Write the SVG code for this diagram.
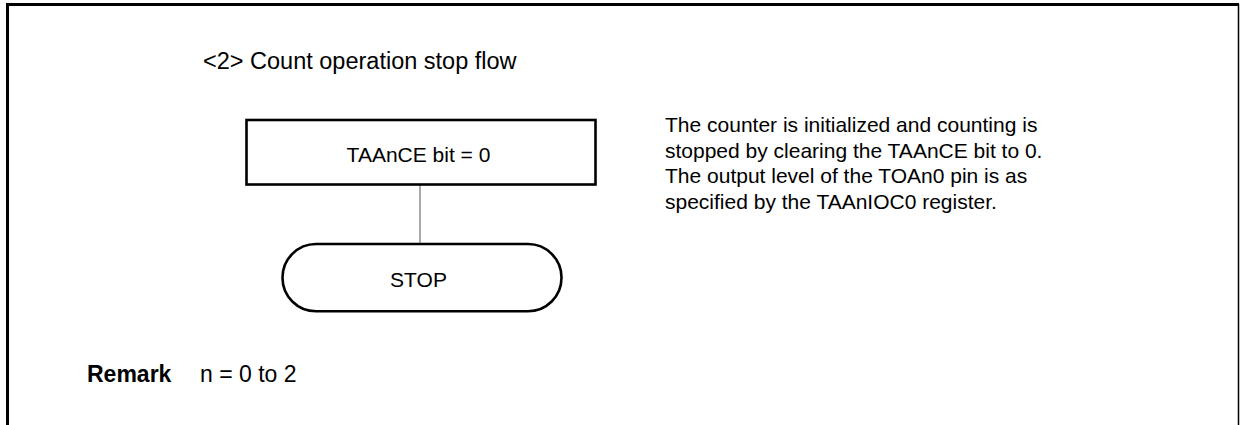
<svg xmlns="http://www.w3.org/2000/svg" width="1242" height="425" viewBox="0 0 1242 425">
<style>
text{font-family:"Liberation Sans",Arial,sans-serif;fill:#000}
.t{font-size:23.5px}
.r{font-size:23px}
.n{font-size:21px;text-anchor:middle}
.d{font-size:21px}
.shape{fill:#fff;stroke:#000;stroke-width:2.6}
.conn{stroke:#555;stroke-width:1;fill:none}
</style>
<rect width="1242" height="425" fill="#fff"/>
<g id="frame" fill="none" stroke="#000">
<line x1="7.5" y1="3" x2="7.5" y2="425" stroke-width="3"/>
<line x1="6" y1="4.5" x2="1239" y2="4.5" stroke-width="3"/>
<line x1="1238.5" y1="4" x2="1238.5" y2="425" stroke-width="1.5"/>
</g>
<text class="t" x="203" y="69">&lt;2&gt; Count operation stop flow</text>
<g id="connectors">
<line class="conn" x1="420" y1="185" x2="420" y2="244"/>
</g>
<g id="node-clear">
<rect class="shape" x="246.5" y="120" width="349" height="64.5"/>
<text class="n" x="418.5" y="162">TAAnCE bit = 0</text>
</g>
<g id="node-stop">
<rect class="shape" x="282.5" y="244" width="279" height="67.3" rx="33.6" ry="33.6"/>
<text class="n" x="418.5" y="287">STOP</text>
</g>
<g id="note">
<text class="d" x="665" y="132">The counter is initialized and counting is</text>
<text class="d" x="665" y="157.5">stopped by clearing the TAAnCE bit to 0.</text>
<text class="d" x="665" y="183">The output level of the TOAn0 pin is as</text>
<text class="d" x="665" y="208.5">specified by the TAAnIOC0 register.</text>
</g>
<g id="remark">
<text class="r" x="87" y="382" font-weight="bold">Remark</text>
<text class="r" x="200" y="382">n = 0 to 2</text>
</g>
</svg>
